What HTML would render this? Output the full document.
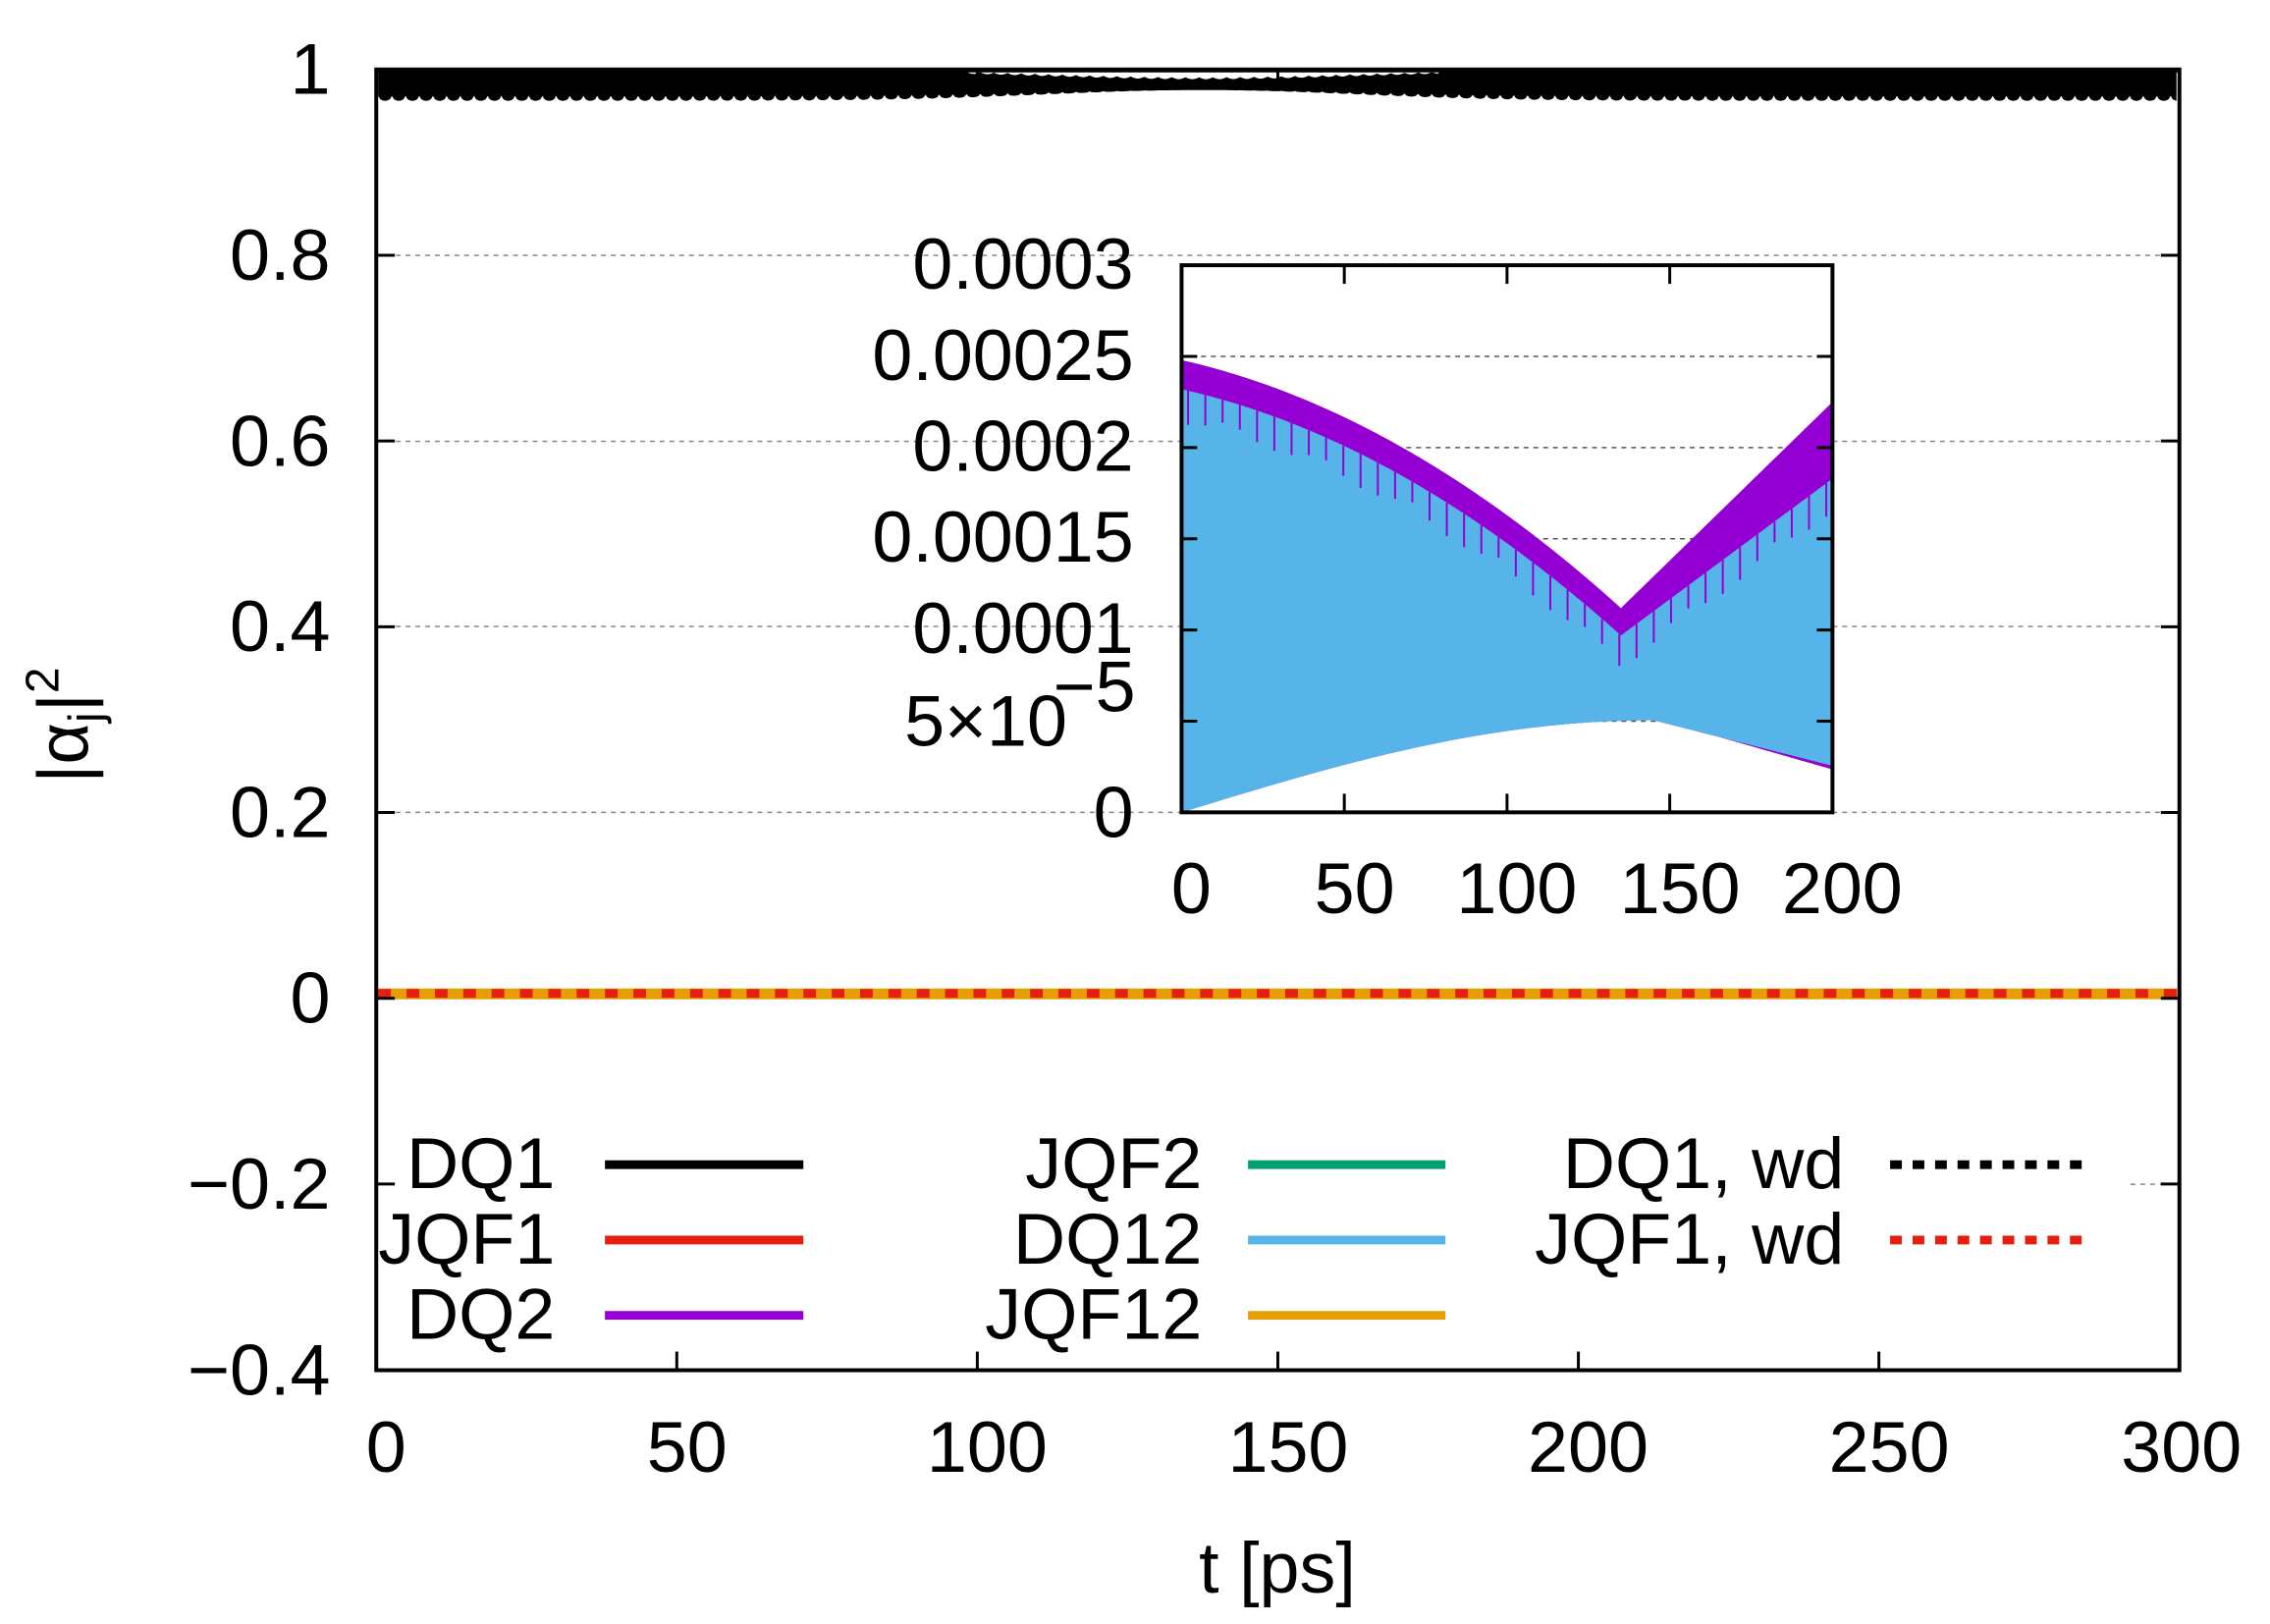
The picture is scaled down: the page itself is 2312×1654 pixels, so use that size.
<!DOCTYPE html>
<html><head><meta charset="utf-8"><style>
html,body{margin:0;padding:0;background:#fff}
svg{display:block}
text{font-family:"Liberation Sans",sans-serif;font-size:74px;fill:#000}
</style></head><body>
<svg id="s" width="2312" height="1654" viewBox="0 0 2312 1654" xmlns="http://www.w3.org/2000/svg">
<rect width="2312" height="1654" fill="#fff"/>
<g transform="scale(0.9954,0.9968)">
<g stroke="#888" stroke-width="1.5" stroke-dasharray="5,5">
<line x1="385" y1="261" x2="2230" y2="261"/>
<line x1="385" y1="451" x2="2230" y2="451"/>
<line x1="385" y1="640" x2="2230" y2="640"/>
<line x1="385" y1="830" x2="2230" y2="830"/>
<line x1="2180" y1="1210" x2="2230" y2="1210"/>
</g>
<g id="main"></g>
<g id="inset"></g>
<rect x="385" y="71" width="1845" height="1329" fill="none" stroke="#000" stroke-width="4"/>
<g stroke="#000" stroke-width="3" id="ticks"></g>
<g text-anchor="end">
<text x="338" y="96">1</text>
<text x="338" y="286">0.8</text>
<text x="338" y="476">0.6</text>
<text x="338" y="665">0.4</text>
<text x="338" y="855">0.2</text>
<text x="338" y="1045">0</text>
<text x="338" y="1235">−0.2</text>
<text x="338" y="1425">−0.4</text>
</g>
<g text-anchor="middle">
<text x="395" y="1504">0</text>
<text x="703" y="1504">50</text>
<text x="1010" y="1504">100</text>
<text x="1318" y="1504">150</text>
<text x="1625" y="1504">200</text>
<text x="1933" y="1504">250</text>
<text x="2232" y="1504">300</text>
<text x="1307" y="1627">t [ps]</text>
</g>
<text transform="translate(90,741) rotate(-90)" text-anchor="middle">|α<tspan font-size="48" dy="14">j</tspan><tspan dy="-14">|</tspan><tspan font-size="48" dy="-30">2</tspan></text>
<g text-anchor="end">
<text x="568" y="1214">DQ1</text>
<text x="568" y="1291">JQF1</text>
<text x="568" y="1368">DQ2</text>
<text x="1230" y="1214">JQF2</text>
<text x="1230" y="1291">DQ12</text>
<text x="1230" y="1368">JQF12</text>
<text x="1887" y="1214">DQ1, wd</text>
<text x="1887" y="1291">JQF1, wd</text>
</g>
<g stroke-width="9">
<line x1="619" y1="1190" x2="822" y2="1190" stroke="#000"/>
<line x1="619" y1="1267" x2="822" y2="1267" stroke="#e51e10"/>
<line x1="619" y1="1344" x2="822" y2="1344" stroke="#9400d3"/>
<line x1="1277" y1="1190" x2="1479" y2="1190" stroke="#009e73"/>
<line x1="1277" y1="1267" x2="1479" y2="1267" stroke="#56b4e9"/>
<line x1="1277" y1="1344" x2="1479" y2="1344" stroke="#e69f00"/>
<line x1="1934" y1="1190" x2="2139" y2="1190" stroke="#000" stroke-dasharray="12,11"/>
<line x1="1934" y1="1267" x2="2139" y2="1267" stroke="#e51e10" stroke-dasharray="12,11"/>
</g>
<g text-anchor="end">
<text x="1160" y="295">0.0003</text>
<text x="1160" y="388">0.00025</text>
<text x="1160" y="481">0.0002</text>
<text x="1160" y="574">0.00015</text>
<text x="1160" y="667">0.0001</text>
<text x="1092" y="762">5×10</text>
<text x="1162" y="727" font-size="56">−5</text>
<text x="1160" y="855">0</text>
</g>
<g text-anchor="middle">
<text x="1219" y="933">0</text>
<text x="1386" y="933">50</text>
<text x="1552" y="933">100</text>
<text x="1719" y="933">150</text>
<text x="1885" y="933">200</text>
</g>
</g>
</svg>
<script>
(function(){
var NS="http://www.w3.org/2000/svg";
function el(p,t,a){var e=document.createElementNS(NS,t);for(var k in a)e.setAttribute(k,a[k]);p.appendChild(e);return e;}
var m=document.getElementById("main");
var tp=[],bt0=[];
for(var x=387;x<=2228;x+=2){var d=Math.exp(-Math.pow((x-1230)/220,2));var ph=((x-387)%14)/14;var sc=Math.pow(Math.sin(Math.PI*ph),0.5);
tp.push(x+","+(71+8*d+(d>0.3?2*Math.sin(Math.PI*ph):0)));bt0.push(x+","+(103-11*d-5*(1-sc)*(1-d)));}
el(m,"polygon",{points:tp.concat(bt0.reverse()).join(" "),fill:"#000"});
el(m,"line",{x1:385,y1:72,x2:2230,y2:72,stroke:"#000","stroke-width":4});
el(m,"rect",{x:387,y:1010,width:1841,height:11,fill:"#e69f00"});
el(m,"line",{x1:387,y1:1015,x2:2228,y2:1015,stroke:"#e51e10","stroke-width":9,"stroke-dasharray":"13,16"});
var g=document.getElementById("inset");
function X(t){return 1209+t*3.33;}function Y(v){return 830-v*1863333;}
el(g,"rect",{x:1209,y:271,width:666,height:559,fill:"#fff"});
var gl=el(g,"g",{stroke:"#555","stroke-width":1.5,"stroke-dasharray":"5,5"});
for(var i=1;i<6;i++)el(gl,"line",{x1:1209,x2:1875,y1:Y(i*5e-5),y2:Y(i*5e-5)});
function env(t,a,b,c){
 if(t<135){var u=t/135;return a+(b-a)*(0.4*u+0.6*u*u);} var u=(t-135)/65;return b+(c-b)*u;}
var P=[],B=[],P2=[],Q=[];
for(var t=0;t<=200;t+=1){
 var pt=env(t,2.48e-4,1.12e-4,2.25e-4),bt=env(t,2.32e-4,0.97e-4,1.83e-4);
 var lo=t<145?5.05e-5*Math.sin(Math.PI/2*t/145):5.05e-5-(t-145)/55*2.5e-5;
 var plo=t<165?lo:lo-2e-6*(t-165)/35;
 P.push(X(t)+","+Y(pt));B.push(X(t)+","+Y(bt));Q.push(X(t)+","+Y(lo));P2.push(X(t)+","+Y(plo));}
el(g,"polygon",{points:P.concat(P2.slice().reverse()).join(" "),fill:"#9400d3"});
el(g,"polygon",{points:B.concat(Q.slice().reverse()).join(" "),fill:"#56b4e9"});
var sp=el(g,"g",{stroke:"#9400d3","stroke-width":2});
for(var t=2;t<200;t+=5.3){var bt=env(t,2.32e-4,0.97e-4,1.83e-4);el(sp,"line",{x1:X(t),x2:X(t),y1:Y(bt),y2:Y(bt)+20+15*Math.abs(Math.sin(t*7))});}
el(g,"rect",{x:1209,y:271,width:666,height:559,fill:"none",stroke:"#000","stroke-width":4});
var it=el(g,"g",{stroke:"#000","stroke-width":3});
[50,100,150].forEach(function(t){el(it,"line",{x1:X(t),x2:X(t),y1:271,y2:290});el(it,"line",{x1:X(t),x2:X(t),y1:830,y2:811});});
for(var i=1;i<6;i++){el(it,"line",{x1:1209,x2:1225,y1:Y(i*5e-5),y2:Y(i*5e-5)});el(it,"line",{x1:1875,x2:1859,y1:Y(i*5e-5),y2:Y(i*5e-5)});}
var tk=document.getElementById("ticks");
for(var i=1;i<6;i++){var x=385+i*307.5;el(tk,"line",{x1:x,x2:x,y1:1400,y2:1381});el(tk,"line",{x1:x,x2:x,y1:71,y2:90});}
for(var i=1;i<7;i++){var y=71+i*189.8;el(tk,"line",{x1:385,x2:404,y1:y,y2:y});el(tk,"line",{x1:2230,x2:2211,y1:y,y2:y});}
})();
</script>
</body></html>
